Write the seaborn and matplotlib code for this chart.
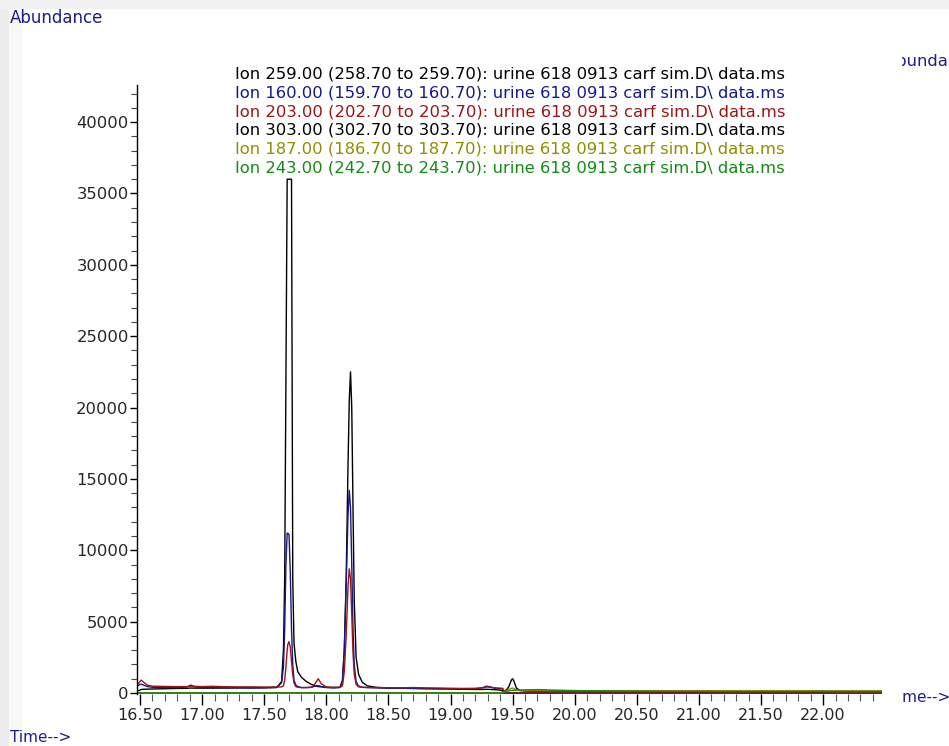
import numpy as np
import pandas as pd
import matplotlib
matplotlib.use("Agg")
import matplotlib.pyplot as plt
import seaborn as sns
from matplotlib.patches import Rectangle
from matplotlib.transforms import Bbox, TransformedBbox
from matplotlib.ticker import MultipleLocator, FixedLocator

# ------------------------------------------------------------
# SIM group 1 (16.48 - 19.42 min) : ions 259, 160, 203
# ------------------------------------------------------------
t_grp1 = [16.48, 16.50, 16.51, 16.53, 16.56, 16.60, 16.70, 16.80, 16.88, 16.91,
          16.94, 17.00, 17.08, 17.20, 17.30, 17.40, 17.50, 17.60, 17.64, 17.655,
          17.665, 17.675, 17.685, 17.69, 17.70, 17.71, 17.72, 17.73, 17.74, 17.755,
          17.77, 17.80, 17.84, 17.88, 17.91, 17.935, 17.96, 18.00, 18.06, 18.11,
          18.13, 18.145, 18.16, 18.175, 18.185, 18.195, 18.205, 18.215, 18.225, 18.24,
          18.26, 18.29, 18.33, 18.40, 18.50, 18.60, 18.70, 18.80, 18.90, 19.00,
          19.10, 19.20, 19.26, 19.29, 19.32, 19.36, 19.40, 19.42]

ion259 = [150, 200, 250, 260, 270, 280, 300, 320, 330, 350,
          340, 340, 340, 350, 360, 360, 370, 380, 800, 3000,
          8000, 22000, 36000, 36000, 36000, 36000, 36000, 8000, 3500, 2200,
          1500, 1100, 800, 600, 500, 450, 430, 400, 380, 400,
          800, 3000, 8000, 16000, 20500, 22500, 20000, 13000, 6500, 2500,
          1300, 750, 500, 400, 350, 330, 320, 300, 290, 280,
          260, 250, 250, 260, 250, 230, 200, 150]

ion160 = [500, 600, 620, 550, 450, 400, 380, 380, 420, 560,
          420, 380, 380, 360, 360, 350, 360, 400, 700, 1800,
          4500, 9000, 11200, 11200, 11100, 8500, 4500, 2000, 900, 550,
          450, 380, 380, 400, 480, 520, 450, 380, 360, 380,
          900, 3000, 7500, 12500, 14200, 13000, 9000, 4500, 2000, 800,
          480, 400, 380, 360, 340, 330, 320, 310, 300, 290,
          280, 290, 380, 480, 430, 320, 300, 300]

ion203 = [600, 800, 900, 750, 550, 480, 460, 450, 450, 480,
          470, 450, 470, 440, 430, 430, 420, 420, 430, 500,
          900, 1800, 3000, 3400, 3600, 3200, 2200, 1300, 700, 450,
          400, 380, 380, 400, 650, 1000, 650, 420, 400, 400,
          500, 1500, 4000, 7500, 8700, 8000, 5500, 2800, 1300, 600,
          430, 400, 390, 380, 370, 360, 380, 360, 350, 330,
          320, 330, 360, 420, 400, 360, 340, 330]

# ------------------------------------------------------------
# SIM group 2 (19.43 - 22.47 min) : ions 303, 187, 243
# ------------------------------------------------------------
t_grp2 = [19.43, 19.45, 19.47, 19.49, 19.50, 19.51, 19.53, 19.56, 19.60, 19.65,
          19.70, 19.75, 19.80, 19.90, 20.00, 20.25, 20.50, 20.75, 21.00, 21.25,
          21.50, 21.75, 22.00, 22.25, 22.47]

ion303 = [150, 200, 450, 900, 1000, 850, 350, 170, 140, 130,
          130, 130, 130, 130, 130, 130, 130, 130, 130, 130,
          130, 130, 130, 130, 130]

ion187 = [100, 150, 250, 330, 350, 300, 220, 180, 170, 170,
          170, 170, 160, 160, 160, 160, 160, 160, 160, 160,
          160, 160, 150, 150, 150]

ion243 = [50, 100, 150, 180, 190, 190, 200, 210, 220, 230,
          240, 230, 210, 190, 170, 150, 130, 120, 120, 110,
          110, 110, 110, 100, 100]

# ions not acquired in the other group stay at zero
t_off_grp1 = [16.48, 19.42]
t_off_grp2 = [19.43, 22.47]
zero_off = [0, 0]

ion_labels = [
    "Ion 259.00 (258.70 to 259.70): urine 618 0913 carf sim.D\\ data.ms",
    "Ion 160.00 (159.70 to 160.70): urine 618 0913 carf sim.D\\ data.ms",
    "Ion 203.00 (202.70 to 203.70): urine 618 0913 carf sim.D\\ data.ms",
    "Ion 303.00 (302.70 to 303.70): urine 618 0913 carf sim.D\\ data.ms",
    "Ion 187.00 (186.70 to 187.70): urine 618 0913 carf sim.D\\ data.ms",
    "Ion 243.00 (242.70 to 243.70): urine 618 0913 carf sim.D\\ data.ms",
]
ion_colors = ["#000000", "#16168f", "#9c1414", "#000000", "#8e8e00", "#138a13"]

x_major = [16.5, 17.0, 17.5, 18.0, 18.5, 19.0, 19.5, 20.0, 20.5, 21.0, 21.5, 22.0]
x_major_labels = ["16.50", "17.00", "17.50", "18.00", "18.50", "19.00",
                  "19.50", "20.00", "20.50", "21.00", "21.50", "22.00"]
y_major = [0, 5000, 10000, 15000, 20000, 25000, 30000, 35000, 40000]

# ------------------------------------------------------------
# long format table for seaborn
# ------------------------------------------------------------
series = [
    (t_grp1 + t_off_grp2, ion259 + zero_off),
    (t_grp1 + t_off_grp2, ion160 + zero_off),
    (t_grp1 + t_off_grp2, ion203 + zero_off),
    (t_off_grp1 + t_grp2, zero_off + ion303),
    (t_off_grp1 + t_grp2, zero_off + ion187),
    (t_off_grp1 + t_grp2, zero_off + ion243),
]
frames = []
for lab, (tt, yy) in zip(ion_labels, series):
    frames.append(pd.DataFrame({"time": tt, "abundance": yy, "ion": lab}))
df = pd.concat(frames, ignore_index=True)

sns.set_style("white")
plt.rcParams["font.family"] = ["DejaVu Sans"]

W, H = 949, 746
fig = plt.figure(figsize=(W / 100, H / 100), dpi=100)
fig.patch.set_facecolor("white")

# light grey frame of the original screenshot
fig.patches.append(Rectangle((0, 0), 9 / W, 1, transform=fig.transFigure,
                             color="#ececec", zorder=0))
fig.patches.append(Rectangle((9 / W, 0), 12 / W, 1, transform=fig.transFigure,
                             color="#f8f8f8", zorder=0))
fig.patches.append(Rectangle((0, 1 - 8 / H), 1, 8 / H, transform=fig.transFigure,
                             color="#f1f1f1", zorder=0))

x0, x1 = 16.476, 22.474
ax_left, ax_right = 137, 882
ax_top, ax_bottom = 85, 694
ax = fig.add_axes([ax_left / W, 1 - ax_bottom / H,
                   (ax_right - ax_left) / W, (ax_bottom - ax_top) / H])
ax.set_facecolor("none")

sns.lineplot(data=df, x="time", y="abundance", hue="ion",
             hue_order=ion_labels, palette=dict(zip(ion_labels, ion_colors)),
             estimator=None, sort=False, lw=1.0, legend=False, ax=ax)

ax.set_xlim(x0, x1)
ax.set_ylim(-70, 42600)
ax.set_xlabel("")
ax.set_ylabel("")

for s in ["top", "right", "bottom"]:
    ax.spines[s].set_visible(False)
ax.spines["left"].set_linewidth(1.0)
ax.spines["left"].set_color("black")

ax.xaxis.set_major_locator(FixedLocator(x_major))
ax.set_xticklabels(x_major_labels)
ax.xaxis.set_minor_locator(FixedLocator([16.5 + 0.1 * i for i in range(60)]))
ax.yaxis.set_major_locator(FixedLocator(y_major))
ax.yaxis.set_minor_locator(MultipleLocator(1000))

ax.tick_params(axis="x", which="major", direction="out", length=8, width=1,
               color="black", labelsize=11.5, pad=2, bottom=True)
ax.tick_params(axis="x", which="minor", direction="out", length=5, width=0.8,
               color="#555555", bottom=True)
ax.tick_params(axis="y", which="major", direction="out", length=5, width=1,
               color="black", labelsize=11.8, pad=1, left=True)
ax.tick_params(axis="y", which="minor", direction="out", length=4, width=0.8,
               color="#444444", left=True)

# legend as coloured text lines
for i, (lab, col) in enumerate(zip(ion_labels, ion_colors)):
    fig.text(235 / W, 1 - (74 + 18.8 * i) / H, lab, color=col, fontsize=11.8,
             ha="left", va="center")

navy = "#1c1c8c"
fig.text(10 / W, 1 - 18 / H, "Abundance", color=navy, fontsize=12,
         ha="left", va="center")
fig.text(10 / W, 1 - 738 / H, "Time-->", color=navy, fontsize=11,
         ha="left", va="center")

# pieces of the neighbouring panel, cut by the window edge
t_ab = fig.text(886 / W, 1 - 62 / H, "Abundance", color=navy, fontsize=11.8,
                ha="left", va="center")
t_ab.set_clip_box(TransformedBbox(Bbox([[902 / W, 0], [1, 1]]), fig.transFigure))
t_ab.set_clip_on(True)
t_tm = fig.text(889 / W, 1 - 697 / H, "Time-->", color=navy, fontsize=11,
                ha="left", va="center")
t_tm.set_clip_box(TransformedBbox(Bbox([[901 / W, 0], [1, 1]]), fig.transFigure))
t_tm.set_clip_on(True)

plt.savefig("out.png", dpi=100)
plt.close()
